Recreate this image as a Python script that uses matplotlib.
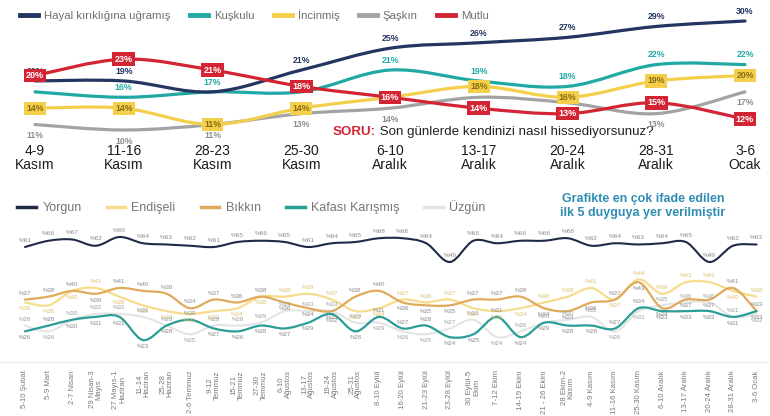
import numpy as np
import matplotlib
matplotlib.use('Agg')
import matplotlib.pyplot as plt
from matplotlib.path import Path
from matplotlib.patches import PathPatch
from matplotlib.lines import Line2D
from matplotlib.transforms import blended_transform_factory

plt.rcParams['font.family'] = ['Liberation Sans', 'DejaVu Sans']

W, H = 770, 416

# ust grafik: son 9 hafta
donemler = ['4-9\nKasım', '11-16\nKasım', '28-23\nKasım', '25-30\nKasım', '6-10\nAralık',
            '13-17\nAralık', '20-24\nAralık', '28-31\nAralık', '3-6\nOcak']
hayalKirikligi = [19, 19, 17, 21, 25, 26, 27, 29, 30]
kuskulu = [17, 16, 17, 17, 21, 19, 18, 22, 22]
incinmis = [14, 14, 11, 14, 16, 18, 16, 19, 20]
saskin = [11, 10, 11, 13, 14, 16, 15, 13, 17]
mutlu = [20, 23, 21, 18, 16, 14, 13, 15, 12]
# resimde gorunen etiketler
hayalEtiketli = [0, 1, 3, 4, 5, 6, 7, 8]
kuskuluEtiketli = [1, 2, 4, 5, 6, 7, 8]
saskinEtiketli = [0, 1, 2, 3, 4, 7, 8]

# alt grafik: subattan ocaga
haftalar = ['5-10 Şubat', '5-9 Mart', '2-7 Nisan', '29 Nisan-3\nMayıs', '27 Mayıs-1\nHaziran',
            '11-14\nHaziran', '25-28\nHaziran', '2-6 Temmuz', '9-12\nTemmuz', '15-21\nTemmuz',
            '27-30\nTemmuz', '6-10\nAğustos', '13-17\nAğustos', '19-24\nAğustos', '25-31\nAğustos',
            '8-10 Eylül', '16-20 Eylül', '21-23 Eylül', '23-28 Eylül', '30 Eylül-5\nEkim',
            '7-12 Ekim', '14-19 Ekim', '21 - 26 Ekim', '28 Ekim-2\nKasım', '4-9 Kasım',
            '11-16 Kasım', '25-30 Kasım', '6-10 Aralık', '13-17 Aralık', '20-24 Aralık',
            '28-31 Aralık', '3-6 Ocak']
yorgun = [61, 66, 67, 62, 69, 64, 63, 62, 61, 65, 66, 65, 61, 64, 65, 68,
          68, 64, 49, 66, 64, 66, 66, 68, 62, 64, 63, 64, 65, 49, 62, 63]
endiseli = [36, 35, 40, 41, 38, 35, 33, 32, 33, 34, 38, 38, 39, 37, 33, 34,
            37, 36, 37, 34, 33, 34, 36, 38, 41, 37, 44, 39, 43, 43, 40, 38]
bikkin = [37, 38, 40, 39, 41, 40, 39, 34, 37, 36, 38, 36, 34, 33, 38, 40,
          36, 35, 35, 37, 37, 38, 34, 33, 36, 37, 43, 34, 37, 37, 41, 33]
kafasiKarisik = [26, 28, 30, 31, 31, 23, 28, 30, 27, 26, 28, 27, 29, 32, 26, 31,
                 27, 28, 24, 25, 31, 24, 29, 28, 28, 27, 34, 33, 33, 33, 31, 33]
uzgun = [28, 26, 30, 32, 32, 31, 28, 25, 28, 28, 29, 33, 33, 33, 29, 29,
         26, 25, 27, 30, 24, 26, 29, 30, 31, 26, 33, 35, 36, 36, 31, 32]


def kutu(x0, y0, x1, y1):
    return [x0 / W, 1 - y1 / H, (x1 - x0) / W, (y1 - y0) / H]


def egri(ax, ys, color, lw, z=2):
    # catmull-rom -> bezier, cizimi matplotlib Path yapiyor
    x = np.arange(len(ys), dtype=float)
    y = np.asarray(ys, dtype=float)
    n = len(x)
    verts = [(x[0], y[0])]
    codes = [Path.MOVETO]
    for i in range(n - 1):
        i0 = max(i - 1, 0)
        i3 = min(i + 2, n - 1)
        c1 = (x[i] + (x[i + 1] - x[i0]) / 6, y[i] + (y[i + 1] - y[i0]) / 6)
        c2 = (x[i + 1] - (x[i3] - x[i]) / 6, y[i + 1] - (y[i3] - y[i]) / 6)
        verts += [c1, c2, (x[i + 1], y[i + 1])]
        codes += [Path.CURVE4] * 3
    ax.add_patch(PathPatch(Path(verts, codes), fill=False, edgecolor=color, lw=lw,
                           zorder=z, capstyle='round', clip_on=False))


fig = plt.figure(figsize=(7.7, 4.16), dpi=100)

# ---------------- ust grafik ----------------
LACI, TURKUAZ, SARI, GRI, KIRMIZI = '#243561', '#20a9a4', '#f3cf4c', '#a3a3a3', '#d32434'
ax1 = fig.add_axes(kutu(0, 14, 770, 140))
ax1.set_xlim(-35 / 88.75, 735 / 88.75)
ax1.set_ylim(10 - 10 / 5.45, 30 + 7 / 5.45)
ax1.axis('off')

egri(ax1, saskin, GRI, 2.3, 2)
egri(ax1, incinmis, SARI, 2.3, 3)
egri(ax1, kuskulu, TURKUAZ, 2.3, 4)
egri(ax1, hayalKirikligi, LACI, 2.3, 5)
egri(ax1, mutlu, KIRMIZI, 2.3, 6)

for i in hayalEtiketli:
    ax1.annotate(f'{hayalKirikligi[i]}%', (i, hayalKirikligi[i]), xytext=(0, 7),
                 textcoords='offset points', ha='center', va='center', fontsize=6.3,
                 fontweight='bold', color=LACI, zorder=7)
for i in kuskuluEtiketli:
    ax1.annotate(f'{kuskulu[i]}%', (i, kuskulu[i]), xytext=(0, 7), textcoords='offset points',
                 ha='center', va='center', fontsize=6.3, fontweight='bold', color=TURKUAZ, zorder=7)
for i in saskinEtiketli:
    ax1.annotate(f'{saskin[i]}%', (i, saskin[i]), xytext=(0, -8), textcoords='offset points',
                 ha='center', va='center', fontsize=6.3, fontweight='bold', color='#8d8d8d', zorder=7)
for i, v in enumerate(incinmis):
    ax1.text(i, v, f'{v}%', ha='center', va='center', fontsize=6.3, fontweight='bold',
             color='#8a6a12', zorder=8,
             bbox=dict(boxstyle='square,pad=0.25', fc=SARI, ec='none'))
for i, v in enumerate(mutlu):
    ax1.text(i, v, f'{v}%', ha='center', va='center', fontsize=6.5, fontweight='bold',
             color='white', zorder=9,
             bbox=dict(boxstyle='square,pad=0.25', fc=KIRMIZI, ec='none'))

tr1 = blended_transform_factory(ax1.transData, fig.transFigure)
for i, d in enumerate(donemler):
    fig.text(i, 1 - 158 / H, d, transform=tr1, ha='center', va='center', fontsize=10,
             linespacing=1.05, color='#1b1b1b',
             family=['Liberation Sans Narrow', 'Liberation Sans', 'DejaVu Sans'])

soru = fig.text(333 / W, 1 - 132 / H, 'SORU:', ha='left', va='center', fontsize=9.6,
                fontweight='bold', color=KIRMIZI)
ax1.annotate(' Son günlerde kendinizi nasıl hissediyorsunuz?', xy=(1, 0.5), xycoords=soru,
             ha='left', va='center', fontsize=9.6, color='#222222')

ust_isimler = ['Hayal kırıklığına uğramış', 'Kuşkulu', 'İncinmiş', 'Şaşkın', 'Mutlu']
ust_renkler = [LACI, TURKUAZ, SARI, GRI, KIRMIZI]
fig.legend([Line2D([], [], color=c, lw=3.5) for c in ust_renkler], ust_isimler,
           loc='center left', bbox_to_anchor=(10 / W, 1 - 15 / H), ncol=5, frameon=False,
           fontsize=8.2, handlelength=1.6, columnspacing=1.7, handletextpad=0.5,
           labelcolor='#6f6f6f')

# ---------------- alt grafik ----------------
YORGUN_R, ENDISE_R, BIKKIN_R, KAFA_R, UZGUN_R = '#1f2b46', '#f6dc8c', '#e0a95c', '#2a9d96', '#e4e4e4'
xlim2 = (-25 / 23.6, 745 / 23.6)

axy = fig.add_axes(kutu(0, 222, 770, 265))
axy.set_xlim(*xlim2)
axy.set_ylim(69 - 28 / 1.25, 69 + 15 / 1.25)
axy.axis('off')
egri(axy, yorgun, YORGUN_R, 1.5, 5)
for i, v in enumerate(yorgun):
    axy.annotate(f'%{v}', (i, v), xytext=(0, 5), textcoords='offset points', ha='center',
                 va='center', fontsize=4.6, color='#8a8a8a', zorder=7)

ax2 = fig.add_axes(kutu(0, 265, 770, 362))
ax2.set_xlim(*xlim2)
ax2.set_ylim(41 - 74 / 2.89, 41 + 23 / 2.89)
for s in ['top', 'right', 'left']:
    ax2.spines[s].set_visible(False)
ax2.spines['bottom'].set_color('#ececec')
ax2.set_yticks([])
ax2.set_xticks(range(len(haftalar)))
ax2.set_xticklabels(haftalar, rotation=90, fontsize=5.6, color='#7a7a7a', va='top',
                    ha='center', linespacing=1.0,
                    family=['Liberation Sans Narrow', 'Liberation Sans', 'DejaVu Sans'])
ax2.tick_params(axis='x', length=0, pad=6)

egri(ax2, uzgun, UZGUN_R, 1.5, 2)
egri(ax2, endiseli, ENDISE_R, 1.6, 3)
egri(ax2, bikkin, BIKKIN_R, 1.6, 4)
egri(ax2, kafasiKarisik, KAFA_R, 1.6, 5)

# ust ustte binen cift seriler: ustteki etiketi yukari, alttakini asagi koy
etiket = dict(textcoords='offset points', ha='center', va='center', fontsize=4.4, zorder=7)
for i in range(len(haftalar)):
    b_ust = bikkin[i] >= endiseli[i]
    ax2.annotate(f'%{bikkin[i]}', (i, bikkin[i]), xytext=(0, 4.5 if b_ust else -4.5),
                 color='#8a8a8a', **etiket)
    ax2.annotate(f'%{endiseli[i]}', (i, endiseli[i]), xytext=(0, -4.5 if b_ust else 4.5),
                 color='#dcc270', **etiket)
    u_ust = uzgun[i] >= kafasiKarisik[i]
    ax2.annotate(f'%{uzgun[i]}', (i, uzgun[i]), xytext=(0, 4.5 if u_ust else -4.5),
                 color='#a0a0a0', **etiket)
    ax2.annotate(f'%{kafasiKarisik[i]}', (i, kafasiKarisik[i]), xytext=(0, -4.5 if u_ust else 4.5),
                 color='#8a8a8a', **etiket)

alt_isimler = ['Yorgun', 'Endişeli', 'Bıkkın', 'Kafası Karışmış', 'Üzgün']
alt_renkler = [YORGUN_R, ENDISE_R, BIKKIN_R, KAFA_R, UZGUN_R]
fig.legend([Line2D([], [], color=c, lw=2.5) for c in alt_renkler], alt_isimler,
           loc='center left', bbox_to_anchor=(6 / W, 1 - 207 / H), ncol=5, frameon=False,
           fontsize=9, handlelength=1.5, columnspacing=2.0, handletextpad=0.5,
           labelcolor='#767676')

fig.text(643 / W, 1 - 206 / H, 'Grafikte en çok ifade edilen\nilk 5 duyguya yer verilmiştir',
         ha='center', va='center', fontsize=9, fontweight='bold', color='#2f8db3',
         linespacing=1.15)

fig.savefig('out.png', dpi=100)
